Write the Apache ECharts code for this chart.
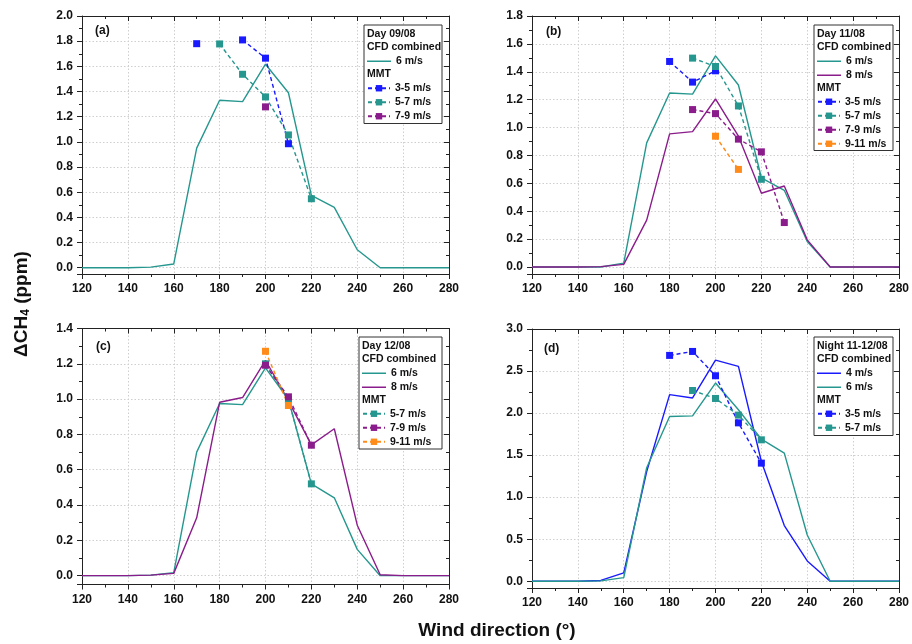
<!DOCTYPE html>
<html><head><meta charset="utf-8">
<script src="https://cdn.jsdelivr.net/npm/echarts@6/dist/echarts.min.js"></script>
<style>html,body{margin:0;padding:0;background:#fff}#c{width:912px;height:644px}</style>
</head><body><div id="c"></div><script>
// ---- data ----
const windDir = [120,130,140,150,160,170,180,190,200,210,220,230,240,250,260,270,280];
const mmtDir = [170,180,190,200,210,220,230];
// (a) Day 09/08
const aCfd6 = [0,0,0,0.005,0.03,0.95,1.33,1.32,1.617,1.39,0.574,0.48,0.143,0,0,0,0];
const aMmt35 = [1.78,null,1.81,1.665,0.985,null,null];
const aMmt57 = [null,1.778,1.537,1.357,1.055,0.548,null];
const aMmt79 = [null,null,null,1.278,null,null,null];
// (b) Day 11/08
const bCfd6 = [0,0,0,0,0.028,0.89,1.248,1.24,1.514,1.305,0.64,0.55,0.183,0,0,0,0];
const bCfd8 = [0,0,0,0.003,0.019,0.336,0.955,0.971,1.205,0.938,0.529,0.581,0.195,0,0,0,0];
const bMmt35 = [null,1.474,1.326,1.407,null,null,null];
const bMmt57 = [null,null,1.498,1.438,1.155,0.629,null];
const bMmt79 = [null,null,1.129,1.1,0.917,0.826,0.319];
const bMmt911 = [null,null,null,0.938,0.7,null,null];
// (c) Day 12/08
const cCfd6 = [0,0,0,0.003,0.017,0.70,0.975,0.969,1.177,0.998,0.52,0.441,0.149,0,0,0,0];
const cCfd8 = [0,0,0,0.003,0.013,0.328,0.982,1.009,1.22,0.99,0.741,0.832,0.286,0.005,0,0,0];
const cMmt57 = [null,null,null,1.2,0.998,0.52,null];
const cMmt79 = [null,null,null,1.192,1.013,0.739,null];
const cMmt911 = [null,null,null,1.271,0.964,null,null];
// (d) Night 11-12/08
const dCfd4 = [0,0,0,0.01,0.10,1.305,2.22,2.18,2.63,2.555,1.424,0.662,0.242,0,0,0,0];
const dCfd6 = [0,0,0,0.005,0.043,1.35,1.96,1.967,2.357,2.04,1.69,1.524,0.551,0,0,0,0];
const dMmt35 = [null,2.686,2.733,2.444,1.884,1.405,null];
const dMmt57 = [null,null,2.269,2.174,1.976,1.682,null];
// labels
const panelLetters = ['(a)','(b)','(c)','(d)'];
const panelTitles = ['Day 09/08','Day 11/08','Day 12/08','Night 11-12/08'];
const xTitle = 'Wind direction (°)';

// ---- styles / layout ----
const TEAL='#25978e', BLUE='#1a1aff', PURPLE='#8b1c8b', ORANGE='#ff8b1a';
const FONT='Arial, "Liberation Sans", sans-serif';
const panels = [
  {grid:{left:82,top:16,width:367,height:258}, ymin:-0.05, ymax:2.0, split:10, letter:[95,31], box:[364,25,78],
   cfd:[['6 m/s',aCfd6,TEAL]], mmt:[['3-5 m/s',aMmt35,BLUE],['5-7 m/s',aMmt57,TEAL],['7-9 m/s',aMmt79,PURPLE]]},
  {grid:{left:532,top:16,width:367,height:258}, ymin:-0.05, ymax:1.8, split:9, letter:[546,32], box:[814,25,79],
   cfd:[['6 m/s',bCfd6,TEAL],['8 m/s',bCfd8,PURPLE]], mmt:[['3-5 m/s',bMmt35,BLUE],['5-7 m/s',bMmt57,TEAL],['7-9 m/s',bMmt79,PURPLE],['9-11 m/s',bMmt911,ORANGE]]},
  {grid:{left:82,top:328.5,width:367,height:256}, ymin:-0.05, ymax:1.4, split:7, letter:[96,347], box:[359,337,83],
   cfd:[['6 m/s',cCfd6,TEAL],['8 m/s',cCfd8,PURPLE]], mmt:[['5-7 m/s',cMmt57,TEAL],['7-9 m/s',cMmt79,PURPLE],['9-11 m/s',cMmt911,ORANGE]]},
  {grid:{left:532,top:329,width:367,height:259}, ymin:-0.08, ymax:3.0, split:6, letter:[544,349], box:[814,337,79],
   cfd:[['4 m/s',dCfd4,BLUE],['6 m/s',dCfd6,TEAL]], mmt:[['3-5 m/s',dMmt35,BLUE],['5-7 m/s',dMmt57,TEAL]]}
];
const PITCH=13.5, TXT=10.5;
const axisLine={show:true,onZero:false,lineStyle:{color:'#222',width:1}};
const labelStyle={fontFamily:FONT,fontWeight:'bold',fontSize:12,color:'#111',margin:9};
const gridLine={show:true,lineStyle:{color:'#cfcfcf',type:[1.5,2],width:1}};
const grid=[],xAxis=[],yAxis=[],series=[],legend=[],graphic=[];
panels.forEach((p,i)=>{
  grid.push(p.grid);
  const xb={gridIndex:i,type:'value',min:120,max:280,interval:20,axisLine};
  xAxis.push(Object.assign({},xb,{position:'bottom',
    axisTick:{show:true,inside:false,length:5,lineStyle:{color:'#222'}},
    minorTick:{show:true,splitNumber:2,length:3,lineStyle:{color:'#222'}},
    axisLabel:Object.assign({},labelStyle),
    splitLine:gridLine}));
  xAxis.push(Object.assign({},xb,{position:'top',
    axisTick:{show:true,inside:true,length:5,lineStyle:{color:'#222'}},
    minorTick:{show:true,splitNumber:2,length:3,lineStyle:{color:'#222'}},
    axisLabel:{show:false},splitLine:{show:false}}));
  const yb={gridIndex:i,type:'value',min:p.ymin,max:p.ymax,splitNumber:p.split,axisLine};
  yAxis.push(Object.assign({},yb,{position:'left',
    axisTick:{show:true,inside:false,length:5,lineStyle:{color:'#222'}},
    minorTick:{show:true,splitNumber:2,length:3,lineStyle:{color:'#222'}},
    axisLabel:Object.assign({},labelStyle,{showMinLabel:true,formatter:v=>v< -0.001?'':v.toFixed(1)}),
    splitLine:gridLine}));
  yAxis.push(Object.assign({},yb,{position:'right',
    axisTick:{show:true,inside:true,length:5,lineStyle:{color:'#222'}},
    minorTick:{show:true,splitNumber:2,length:3,lineStyle:{color:'#222'}},
    axisLabel:{show:false},splitLine:{show:false}}));
  p.cfd.forEach(([name,arr,col])=>{
    series.push({type:'line',name,xAxisIndex:2*i,yAxisIndex:2*i,color:col,symbol:'none',
      lineStyle:{color:col,width:1.4},itemStyle:{color:col},z:2,silent:true,
      data:windDir.map((x,k)=>[x,arr[k]])});
  });
  p.mmt.forEach(([name,arr,col])=>{
    series.push({type:'line',name,xAxisIndex:2*i,yAxisIndex:2*i,color:col,symbol:'rect',symbolSize:7,
      showSymbol:true,showAllSymbol:true,connectNulls:false,
      lineStyle:{color:col,width:1.4,type:[4,3]},itemStyle:{color:col},z:3,silent:true,
      data:mmtDir.map((x,k)=>[x,arr[k]==null?null:arr[k]])});
  });
  // legend box
  const [bx,by,bw]=p.box;
  const rows=3+p.cfd.length+p.mmt.length;
  const rc=r=>by+9+r*PITCH;
  graphic.push({type:'rect',z:5,shape:{x:bx,y:by,width:bw,height:rows*PITCH+4},style:{fill:'#fff',stroke:'#333',lineWidth:1}});
  const hdr=(t,r)=>graphic.push({type:'text',z:6,x:bx+3,y:rc(r),style:{text:t,fontFamily:FONT,fontWeight:'bold',fontSize:TXT,fill:'#111',verticalAlign:'middle'}});
  hdr(panelTitles[i],0); hdr('CFD combined',1); hdr('MMT',2+p.cfd.length);
  const ts={fontFamily:FONT,fontWeight:'bold',fontSize:TXT,color:'#111'};
  legend.push({left:bx+3,top:rc(2)-TXT/2,orient:'vertical',padding:0,itemGap:PITCH-TXT,itemWidth:24,itemHeight:1.5,
    icon:'rect',selectedMode:false,textStyle:ts,z:7,data:p.cfd.map(c=>c[0])});
  legend.push({left:bx+3,top:rc(3+p.cfd.length)-TXT/2,orient:'vertical',padding:0,itemGap:PITCH-TXT,itemWidth:22,itemHeight:8,
    selectedMode:false,textStyle:ts,z:7,data:p.mmt.map(c=>c[0])});
  graphic.push({type:'text',z:6,x:p.letter[0],y:p.letter[1],style:{text:panelLetters[i],fontFamily:FONT,fontWeight:'bold',fontSize:12,fill:'#111',verticalAlign:'middle'}});
});
graphic.push({type:'text',z:6,x:497,y:631,style:{text:xTitle,fontFamily:FONT,fontWeight:'bold',fontSize:19,fill:'#111',align:'center',verticalAlign:'middle'}});
graphic.push({type:'text',z:6,x:22,y:304,rotation:Math.PI/2,style:{text:'{m|ΔCH}{s|4}{m| (ppm)}',align:'center',verticalAlign:'middle',
  rich:{m:{fontFamily:FONT,fontWeight:'bold',fontSize:19,fill:'#111',color:'#111'},s:{fontFamily:FONT,fontWeight:'bold',fontSize:12,color:'#111',verticalAlign:'bottom',padding:[6,0,0,0]}}}});

const chart=echarts.init(document.getElementById('c'),null,{renderer:'canvas'});
chart.setOption({animation:false,backgroundColor:'#fff',grid,xAxis,yAxis,series,legend,graphic});
</script></body></html>
